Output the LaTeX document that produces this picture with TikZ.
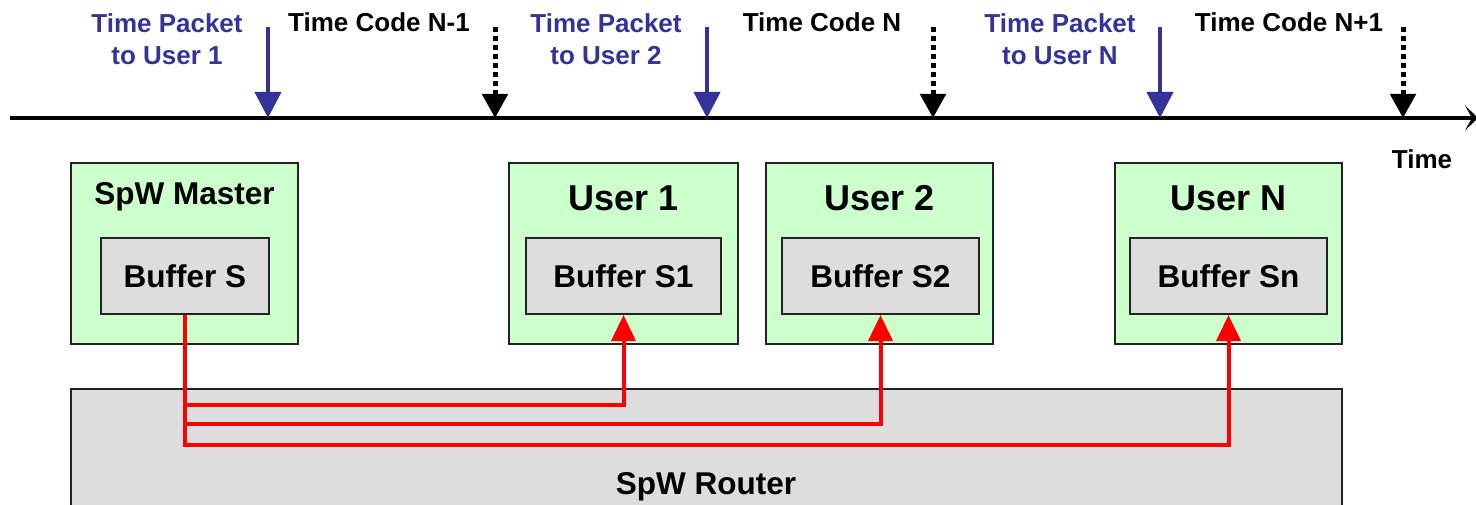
\documentclass[tikz,border=0pt]{standalone}
\usepackage{fontspec}
\setmainfont{Liberation Sans}
\usetikzlibrary{arrows.meta}
\definecolor{pblue}{HTML}{333399}
\definecolor{boxgreen}{HTML}{CCFFCC}
\definecolor{boxgray}{HTML}{DDDDDD}
\definecolor{edge}{HTML}{222222}
\tikzset{
  lbl/.style={font=\bfseries\fontsize{26}{32}\selectfont, align=center, inner sep=0pt},
  bluelbl/.style={lbl, text=pblue},
  userbox/.style={draw=edge, line width=2pt, fill=boxgreen},
  bufbox/.style={draw=edge, line width=2pt, fill=boxgray, font=\bfseries\fontsize{31.5}{36}\selectfont},
  boxtitle/.style={font=\bfseries\fontsize{31.5}{36}\selectfont, inner sep=0pt},
  usertitle/.style={font=\bfseries\fontsize{36}{40}\selectfont, inner sep=0pt},
  pktarrow/.style={draw=pblue, line width=4pt, -{Triangle[width=26pt,length=26pt]}},
  codearrow/.style={draw=black, line width=5pt, dash pattern=on 5pt off 4pt, -{Triangle[width=25pt,length=24pt]}},
  timeline/.style={draw=black, line width=4pt, -{Stealth[length=13pt,width=25pt,inset=7pt]}},
  route/.style={draw=red, line width=4pt, -{Triangle[width=24pt,length=26pt]}},
}
\begin{document}
\begin{tikzpicture}[x=1pt,y=-1pt]
\useasboundingbox (0,0) rectangle (1476,505);
% router
\path[draw=edge, line width=2pt, fill=boxgray] (71,389) rectangle (1342,520);
\node[boxtitle] (router) at (706,487) {SpW Router};
% user boxes
\path[userbox] (71,163) rectangle (298,344);
\node[boxtitle] (master) at (184.5,197) {SpW Master};
\node[bufbox, minimum width=168pt, minimum height=76pt, inner sep=0pt] (bufS) at (185,276) {Buffer S};
\path[userbox] (509,163) rectangle (738,344);
\node[usertitle] (user1) at (623.5,198) {User 1};
\node[bufbox, minimum width=195pt, minimum height=76pt, inner sep=0pt] (bufS1) at (623.5,276) {Buffer S1};
\path[userbox] (766,163) rectangle (993,344);
\node[usertitle] (user2) at (879.5,198) {User 2};
\node[bufbox, minimum width=197pt, minimum height=76pt, inner sep=0pt] (bufS2) at (880.5,276) {Buffer S2};
\path[userbox] (1115,163) rectangle (1342,344);
\node[usertitle] (userN) at (1228.5,198) {User N};
\node[bufbox, minimum width=197pt, minimum height=76pt, inner sep=0pt] (bufSn) at (1228.5,276) {Buffer Sn};
% routes
\draw[route] (bufS.south) |- (bufS1.south |- 0,405) -- (bufS1.south);
\draw[route] (bufS.south) |- (bufS2.south |- 0,424) -- (bufS2.south);
\draw[route] (bufS.south) |- (bufSn.south |- 0,445) -- (bufSn.south);
% timeline
\coordinate (tstart) at (10,118);
\coordinate (tend) at (1478,118);
\draw[timeline] (tstart) -- (tend);
\node[lbl] (timelbl) at (1422,159) {Time};
% labels
\node[bluelbl] (p1) at (167,39) {Time Packet\\to User 1};
\node[lbl] (c1) at (379,22) {Time Code N-1};
\node[bluelbl] (p2) at (606,39) {Time Packet\\to User 2};
\node[lbl] (c2) at (822,22) {Time Code N};
\node[bluelbl] (p3) at (1060,39) {Time Packet\\to User N};
\node[lbl] (c3) at (1289,22) {Time Code N+1};
% event arrows
\coordinate (pa1t) at (268,27); \coordinate (pa1b) at (268,118);
\coordinate (pa2t) at (707,27); \coordinate (pa2b) at (707,118);
\coordinate (pa3t) at (1160,27); \coordinate (pa3b) at (1160,118);
\coordinate (ca1t) at (495,27); \coordinate (ca1b) at (495,118);
\coordinate (ca2t) at (933,27); \coordinate (ca2b) at (933,118);
\coordinate (ca3t) at (1403,27); \coordinate (ca3b) at (1403,118);
\draw[pktarrow] (pa1t) -- (pa1b);
\draw[pktarrow] (pa2t) -- (pa2b);
\draw[pktarrow] (pa3t) -- (pa3b);
\draw[codearrow] (ca1t) -- (ca1b);
\draw[codearrow] (ca2t) -- (ca2b);
\draw[codearrow] (ca3t) -- (ca3b);
\end{tikzpicture}
\end{document}
